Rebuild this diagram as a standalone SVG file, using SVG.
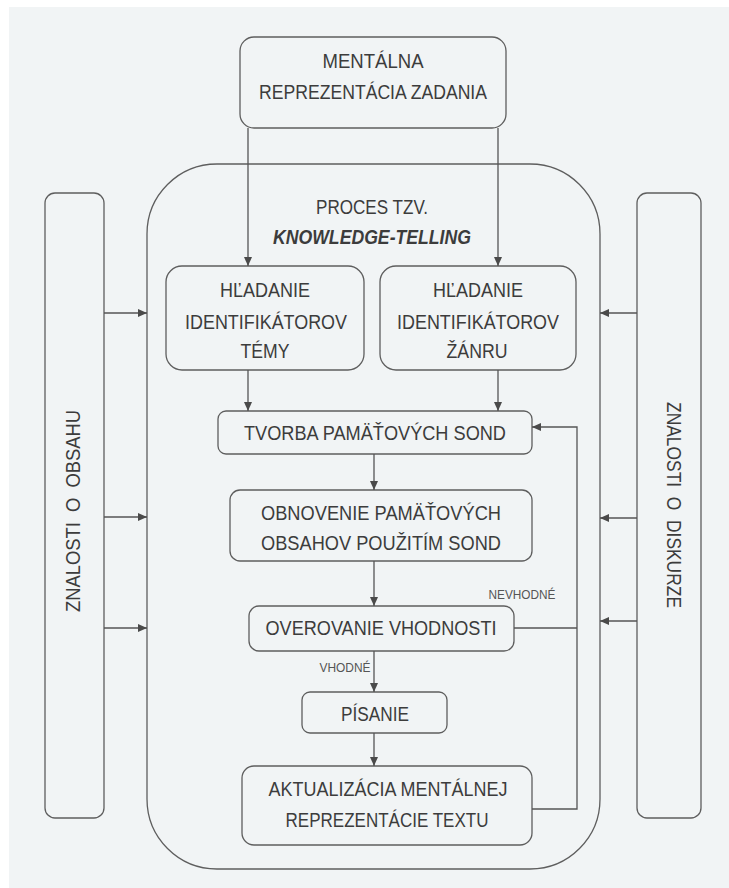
<svg xmlns="http://www.w3.org/2000/svg" width="729" height="888" viewBox="0 0 729 888">
<defs>
<marker id="ah" markerWidth="10" markerHeight="10" refX="9" refY="4" orient="auto" markerUnits="userSpaceOnUse">
<path d="M0,0 L9,4 L0,8 Z" fill="#4a4a4a"/>
</marker>
<style>
.box{fill:none;stroke:#5e5e5e;stroke-width:1.3}
.t{font-family:"Liberation Sans",Arial,sans-serif;font-size:20px;fill:#3c3c3c;text-anchor:middle}
.s{font-family:"Liberation Sans",Arial,sans-serif;font-size:12px;fill:#555;text-anchor:middle}
.c{fill:none;stroke:#555;stroke-width:1.3}
.a{marker-end:url(#ah)}
</style>
</defs>
<rect x="0" y="0" width="729" height="888" fill="#ffffff"/>
<rect x="9" y="7" width="720" height="881" fill="#f1f4f5"/>

<g id="container">
<rect class="box" x="147" y="164" width="453" height="705" rx="70" ry="70"/>
<text class="t" x="372" y="214" textLength="112" lengthAdjust="spacingAndGlyphs">PROCES TZV.</text>
<text class="t" x="372" y="244" textLength="198" lengthAdjust="spacingAndGlyphs" font-weight="bold" font-style="italic">KNOWLEDGE-TELLING</text>
</g>

<g id="task">
<rect class="box" x="240" y="37" width="266" height="91" rx="14"/>
<text class="t" x="373" y="68" textLength="101" lengthAdjust="spacingAndGlyphs">MENTÁLNA</text>
<text class="t" x="373" y="99" textLength="228" lengthAdjust="spacingAndGlyphs">REPREZENTÁCIA ZADANIA</text>
</g>

<g id="content">
<rect class="box" x="45" y="193" width="59" height="625" rx="10"/>
<text class="t" transform="translate(73,511) rotate(-90)" x="0" y="7" textLength="202" lengthAdjust="spacingAndGlyphs" xml:space="preserve">ZNALOSTI  O  OBSAHU</text>
</g>

<g id="discourse">
<rect class="box" x="637" y="193" width="64" height="625" rx="10"/>
<text class="t" transform="translate(674,505) rotate(90)" x="0" y="7" textLength="206" lengthAdjust="spacingAndGlyphs" xml:space="preserve">ZNALOSTI  O  DISKURZE</text>
</g>

<g id="topic">
<rect class="box" x="166" y="266" width="198" height="104" rx="16"/>
<text class="t" x="265" y="297" textLength="90" lengthAdjust="spacingAndGlyphs">HĽADANIE</text>
<text class="t" x="266" y="329" textLength="162" lengthAdjust="spacingAndGlyphs">IDENTIFIKÁTOROV</text>
<text class="t" x="265" y="358" textLength="49" lengthAdjust="spacingAndGlyphs">TÉMY</text>
</g>

<g id="genre">
<rect class="box" x="380" y="266" width="196" height="104" rx="16"/>
<text class="t" x="478" y="297" textLength="90" lengthAdjust="spacingAndGlyphs">HĽADANIE</text>
<text class="t" x="478" y="329" textLength="162" lengthAdjust="spacingAndGlyphs">IDENTIFIKÁTOROV</text>
<text class="t" x="477" y="358" textLength="61" lengthAdjust="spacingAndGlyphs">ŽÁNRU</text>
</g>

<g id="probes">
<rect class="box" x="218" y="411" width="314" height="43" rx="8"/>
<text class="t" x="375" y="440" textLength="262" lengthAdjust="spacingAndGlyphs">TVORBA PAMÄŤOVÝCH SOND</text>
</g>

<g id="retrieve">
<rect class="box" x="230" y="490" width="302" height="71" rx="10"/>
<text class="t" x="381" y="520" textLength="240" lengthAdjust="spacingAndGlyphs">OBNOVENIE PAMÄŤOVÝCH</text>
<text class="t" x="381" y="550" textLength="240" lengthAdjust="spacingAndGlyphs">OBSAHOV POUŽITÍM SOND</text>
</g>

<g id="check">
<rect class="box" x="249" y="606" width="265" height="45" rx="10"/>
<text class="t" x="381" y="635" textLength="231" lengthAdjust="spacingAndGlyphs">OVEROVANIE VHODNOSTI</text>
</g>

<g id="write">
<rect class="box" x="302" y="692" width="145" height="41" rx="8"/>
<text class="t" x="375" y="721" textLength="68" lengthAdjust="spacingAndGlyphs">PÍSANIE</text>
</g>

<g id="update">
<rect class="box" x="242" y="766" width="290" height="79" rx="12"/>
<text class="t" x="388" y="796" textLength="239" lengthAdjust="spacingAndGlyphs">AKTUALIZÁCIA MENTÁLNEJ</text>
<text class="t" x="387" y="827" textLength="203" lengthAdjust="spacingAndGlyphs">REPREZENTÁCIE TEXTU</text>
</g>

<g id="connectors">
<line class="c a" x1="248" y1="128" x2="248" y2="266"/>
<line class="c a" x1="498" y1="128" x2="498" y2="266"/>
<line class="c a" x1="248" y1="370" x2="248" y2="411"/>
<line class="c a" x1="498" y1="370" x2="498" y2="411"/>
<line class="c a" x1="374" y1="454" x2="374" y2="490"/>
<line class="c a" x1="374" y1="561" x2="374" y2="606"/>
<line class="c a" x1="374" y1="651" x2="374" y2="692"/>
<line class="c a" x1="374" y1="733" x2="374" y2="766"/>
<line class="c" x1="514" y1="628" x2="577" y2="628"/>
<polyline class="c a" points="532,809 577,809 577,427 532,427"/>
<line class="c a" x1="104" y1="313" x2="147" y2="313"/>
<line class="c a" x1="104" y1="517" x2="147" y2="517"/>
<line class="c a" x1="104" y1="628" x2="147" y2="628"/>
<line class="c a" x1="637" y1="313" x2="600" y2="313"/>
<line class="c a" x1="637" y1="518" x2="600" y2="518"/>
<line class="c a" x1="637" y1="621" x2="600" y2="621"/>
<text class="s" x="522" y="599" textLength="67" lengthAdjust="spacingAndGlyphs">NEVHODNÉ</text>
<text class="s" x="345" y="672" textLength="51" lengthAdjust="spacingAndGlyphs">VHODNÉ</text>
</g>
</svg>
